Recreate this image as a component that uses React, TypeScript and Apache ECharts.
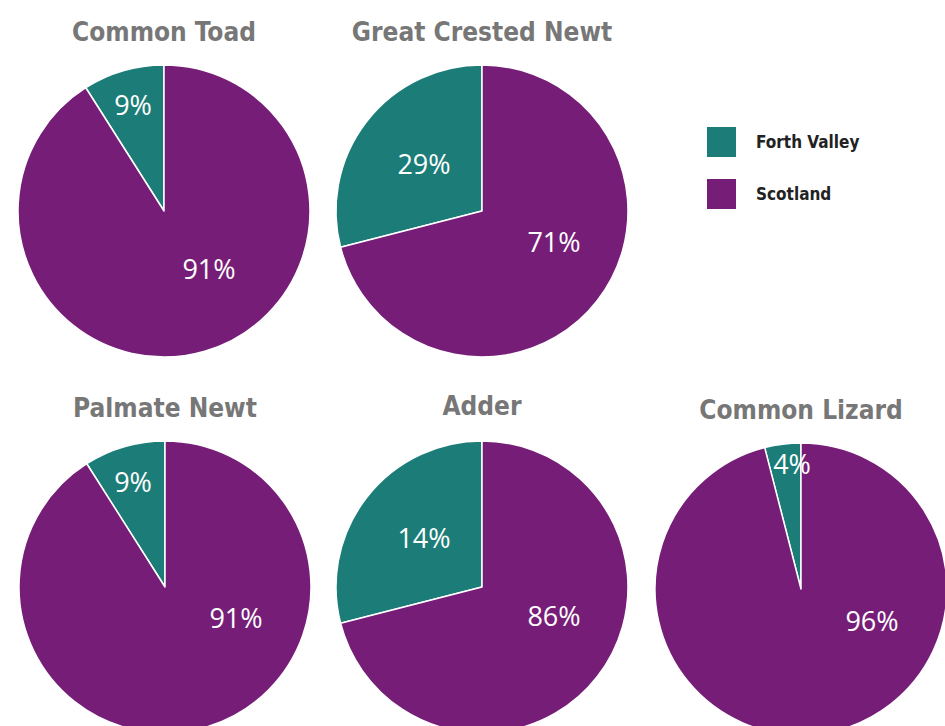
import React, { useEffect, useRef } from "react";
import * as echarts from "echarts";

const species = ["Common Toad", "Great Crested Newt", "Palmate Newt", "Adder", "Common Lizard"];
const groups = ["Forth Valley", "Scotland"];
// slice sizes as drawn in the reference
const forthValley = [9, 29, 9, 29, 4];
const scotland = [91, 71, 91, 71, 96];
// labels as printed in the reference
const forthLabels = ["9%", "29%", "9%", "14%", "4%"];
const scotLabels = ["91%", "71%", "91%", "86%", "96%"];

const TEAL = "#1c7d78";
const PURPLE = "#761e77";
const NARROW = "'Liberation Sans Narrow', 'DejaVu Sans Condensed', 'Roboto Condensed', Roboto, sans-serif";

const centers: [number, number][] = [
  [164, 211],
  [482, 211],
  [165, 587],
  [482, 587],
  [801, 589],
];
const titleY = [32, 32, 408, 406, 410];
const labelOffsets: [number, number][][] = [
  [[-31, -107], [45, 57]],
  [[-58, -48], [72, 30]],
  [[-32, -106], [71, 30]],
  [[-58, -50], [72, 28]],
  [[-9, -126], [71, 31]],
];
const RADIUS = 146;

export default function App() {
  const ref = useRef<HTMLDivElement>(null);
  useEffect(() => {
    if (!ref.current) return;
    const chart = echarts.init(ref.current, null, { renderer: "svg" });
    const series = species.map((name, i) => ({
      type: "pie",
      name,
      center: centers[i],
      radius: RADIUS,
      startAngle: 90,
      clockwise: false,
      silent: true,
      itemStyle: { borderColor: "#ffffff", borderWidth: 1.5 },
      label: {
        show: true,
        position: "inside",
        color: "#ffffff",
        fontFamily: "'Open Sans', sans-serif",
        fontSize: 27,
        fontWeight: 400,
      },
      labelLine: { show: false },
      labelLayout: (p: any) => {
        const off = labelOffsets[i][p.dataIndex];
        return {
          x: centers[i][0] + off[0],
          y: centers[i][1] + off[1],
          align: "center",
          verticalAlign: "middle",
        };
      },
      data: [
        {
          name: groups[0],
          value: forthValley[i],
          itemStyle: { color: TEAL },
          label: { formatter: forthLabels[i] },
        },
        {
          name: groups[1],
          value: scotland[i],
          itemStyle: { color: PURPLE },
          label: { formatter: scotLabels[i] },
        },
      ],
    }));
    chart.setOption({
      animation: false,
      backgroundColor: "#ffffff",
      color: [TEAL, PURPLE],
      title: species.map((s, i) => ({
        text: s,
        left: centers[i][0],
        top: titleY[i] - 16,
        textAlign: "center",
        padding: 0,
        textStyle: {
          color: "#777777",
          fontFamily: NARROW,
          fontWeight: "bold",
          fontSize: 26,
          lineHeight: 32,
        },
      })),
      legend: {
        orient: "vertical",
        left: 705,
        top: 125,
        padding: 0,
        itemWidth: 31,
        itemHeight: 32,
        itemGap: 18,
        icon: "rect",
        selectedMode: false,
        data: groups,
        textStyle: {
          color: "#222222",
          fontFamily: NARROW,
          fontWeight: "bold",
          fontSize: 17,
          padding: [0, 0, 0, 14],
        },
      },
      series,
    });
    return () => chart.dispose();
  }, []);
  return (
    <div
      ref={ref}
      style={{ position: "fixed", left: 0, top: 0, width: 945, height: 726 }}
    />
  );
}
